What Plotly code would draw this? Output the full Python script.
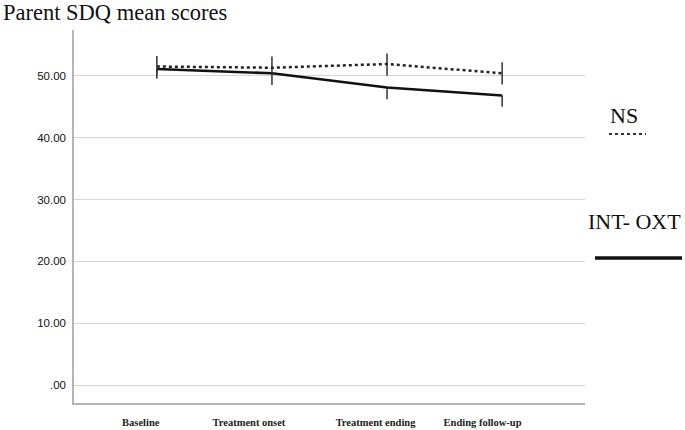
import plotly.graph_objects as go

# Data
categories = ["Baseline", "Treatment onset", "Treatment ending", "Ending follow-up"]
cat_pos = [0, 1, 2, 3]
label_pos = [-0.14, 0.80, 1.90, 2.83]

ns_mean = [51.5, 51.3, 51.9, 50.4]
ns_err_up = [1.7, 1.8, 1.7, 1.8]
ns_err_down = [1.3, 0.9, 1.9, 1.8]

oxt_mean = [51.1, 50.4, 48.1, 46.8]
oxt_err_up = [0, 0, 0, 0]
oxt_err_down = [1.6, 1.9, 1.9, 1.8]

y_ticks = [0, 10, 20, 30, 40, 50]
y_ticktext = [".00", "10.00", "20.00", "30.00", "40.00", "50.00"]

fig = go.Figure()

fig.add_trace(go.Scatter(
    x=cat_pos, y=oxt_mean, mode="lines",
    line=dict(color="#111111", width=2.5),
    error_y=dict(type="data", symmetric=False, array=oxt_err_up, arrayminus=oxt_err_down,
                 color="#333333", thickness=1.5, width=0),
    showlegend=False,
))
fig.add_trace(go.Scatter(
    x=cat_pos, y=ns_mean, mode="lines",
    line=dict(color="#222222", width=2.5, dash="dot"),
    error_y=dict(type="data", symmetric=False, array=ns_err_up, arrayminus=ns_err_down,
                 color="#333333", thickness=1.5, width=0),
    showlegend=False,
))

W, H = 685, 430
L, R, T, B = 74, 100, 30, 27
pw = W - L - R
ph = H - T - B

def px(x):
    return (x - L) / pw

def py(y):
    return (H - B - y) / ph

fig.update_layout(
    width=W, height=H,
    margin=dict(l=L, r=R, t=T, b=B),
    plot_bgcolor="white", paper_bgcolor="white",
    showlegend=False,
    xaxis=dict(
        range=[-0.72, 3.72], tickvals=label_pos, ticktext=categories,
        showgrid=False, zeroline=False, showline=True, linecolor="#b5b5b5", linewidth=1.5,
        ticks="", ticklabelstandoff=9, automargin=False,
        tickfont=dict(family="Liberation Serif", size=10.5, color="#222222", weight="bold"),
    ),
    yaxis=dict(
        range=[-2.9, 57.4], tickvals=y_ticks, ticktext=y_ticktext,
        showgrid=True, gridcolor="#d4d4d4", gridwidth=1.2, zeroline=False,
        showline=True, linecolor="#b5b5b5", linewidth=1.5,
        ticks="", ticklabelstandoff=4, automargin=False,
        tickfont=dict(family="Liberation Sans", size=11.5, color="#111111"),
    ),
    annotations=[
        dict(text="Parent SDQ mean scores", xref="paper", yref="paper",
             x=px(1), y=py(13), xanchor="left", yanchor="middle", showarrow=False,
             font=dict(family="Liberation Serif", size=22.5, color="#111111")),
        dict(text="NS", xref="paper", yref="paper",
             x=px(624), y=py(115), xanchor="center", yanchor="middle", showarrow=False,
             font=dict(family="Liberation Serif", size=22, color="#111111")),
        dict(text="INT- OXT", xref="paper", yref="paper",
             x=px(634), y=py(221), xanchor="center", yanchor="middle", showarrow=False,
             font=dict(family="Liberation Serif", size=22, color="#111111")),
    ],
    shapes=[
        dict(type="line", xref="paper", yref="paper", x0=px(609), x1=px(646), y0=py(134), y1=py(134),
             line=dict(color="#333333", width=2, dash="dot")),
        dict(type="line", xref="paper", yref="paper", x0=px(595), x1=px(682), y0=py(258), y1=py(258),
             line=dict(color="#111111", width=3.5)),
    ],
)

fig.write_html("out.html", config={"displayModeBar": False},
               post_script="document.body.style.margin='0';")
